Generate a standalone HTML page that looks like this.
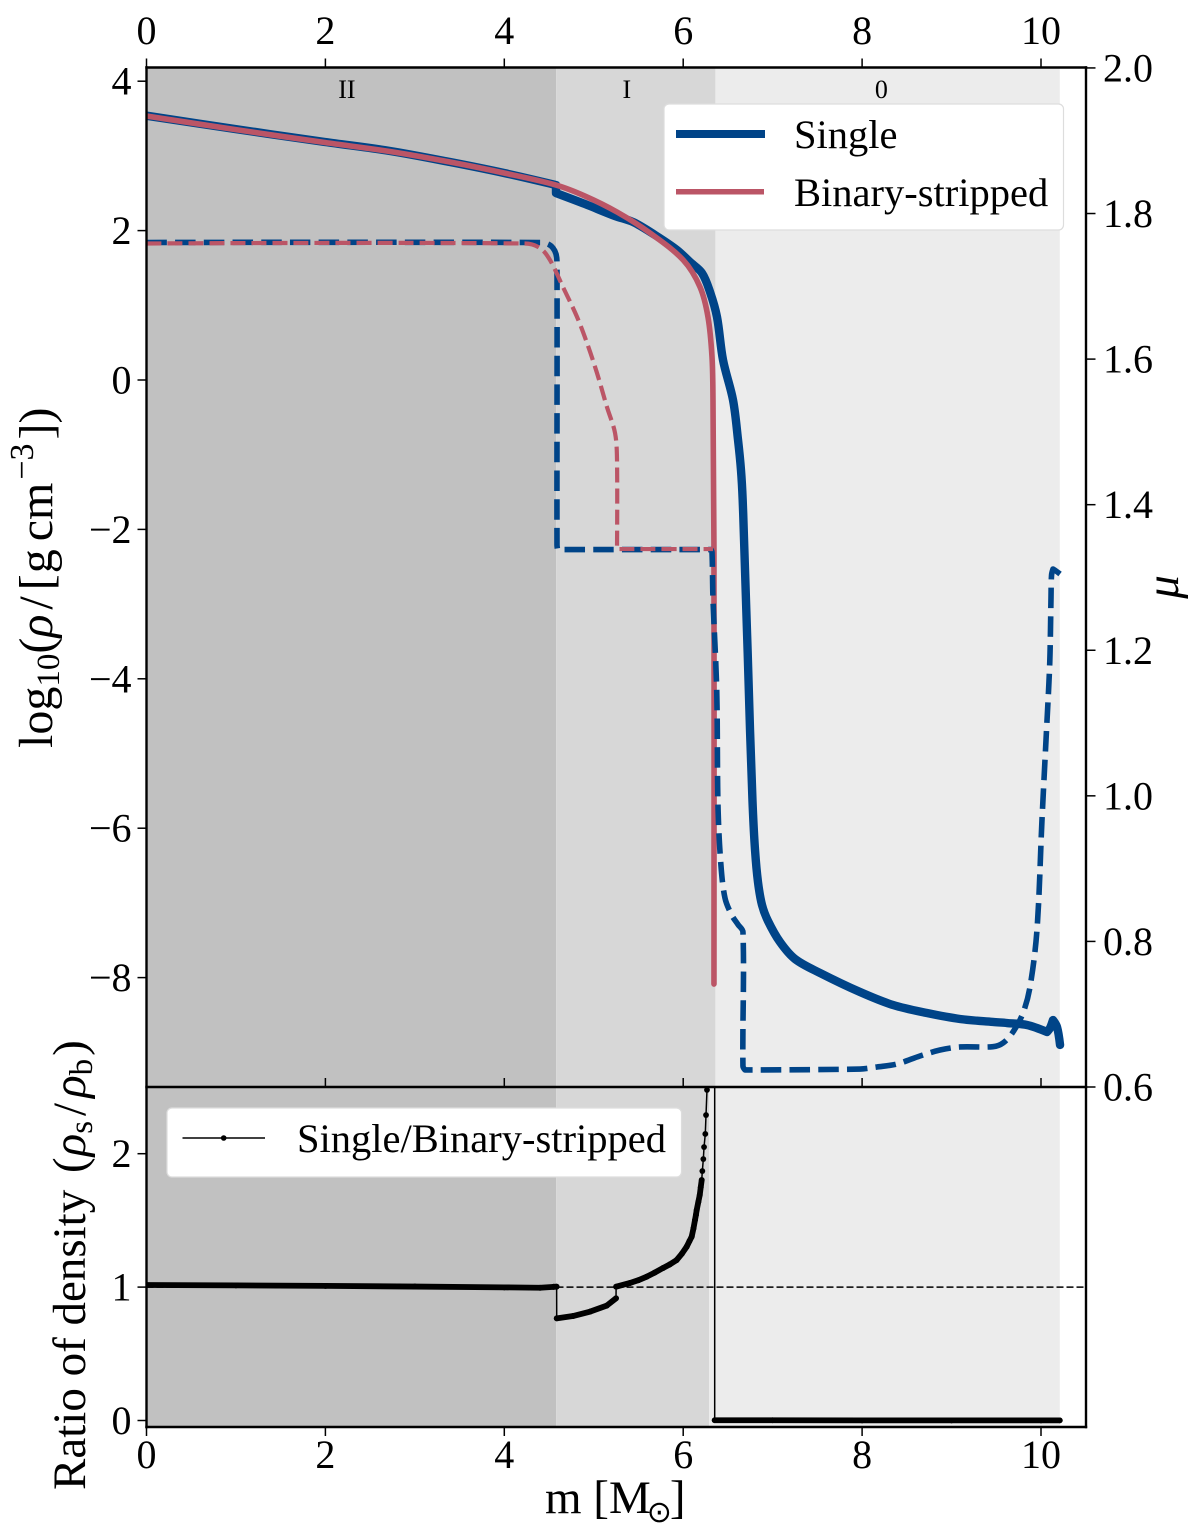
<!DOCTYPE html>
<html lang="en">
<head>
<meta charset="utf-8">
<title>Density profile chart</title>
<style>
html,body{margin:0;padding:0;background:#fff;}
svg{display:block;}
text{font-family:"Liberation Serif","DejaVu Serif",serif;fill:#000;}
</style>
</head>
<body>
<svg id="chart" xmlns="http://www.w3.org/2000/svg" width="1200" height="1535" viewBox="0 0 1200 1535">
  <defs>
    <clipPath id="clip-top"><rect x="146.5" y="67.5" width="939.5" height="1019.5"/></clipPath>
    <clipPath id="clip-bottom"><rect x="146.5" y="1087" width="939.5" height="340"/></clipPath>
  </defs>
  <g id="zones"></g>
  <g id="top-series" clip-path="url(#clip-top)"></g>
  <g id="bottom-series" clip-path="url(#clip-bottom)"></g>
  <g id="axes"></g>

  <text transform="translate(52,748) rotate(-90)" font-size="48">log<tspan font-size="33" dy="7">10</tspan><tspan dy="-7">(</tspan><tspan font-style="italic">ρ</tspan><tspan dx="5">/</tspan><tspan dx="6">[</tspan><tspan dx="1">g</tspan><tspan dx="8">cm</tspan><tspan font-size="34" dy="-19" dx="3">−3</tspan><tspan dy="19" dx="4">])</tspan></text>
  <text transform="translate(85,1490) rotate(-90)" font-size="47">Ratio of density <tspan dx="5">(</tspan><tspan font-style="italic" dx="1">ρ</tspan><tspan font-size="33" dy="7">s</tspan><tspan dy="-7" dx="5">/</tspan><tspan font-style="italic" dx="5">ρ</tspan><tspan font-size="33" dy="7">b</tspan><tspan dy="-7" dx="3">)</tspan></text>
  <text transform="translate(1178,587) rotate(-90)" font-size="47" font-style="italic" text-anchor="middle">μ</text>
  <text x="545" y="1513" font-size="47">m [M<tspan font-family="'DejaVu Sans',sans-serif" font-size="30" dx="-4" dy="9">⊙</tspan><tspan dy="-9" dx="-2">]</tspan></text>

  <g>
    <rect x="664" y="104" width="399.5" height="126" rx="5" fill="#fff" stroke="#ddd" stroke-width="1.2"/>
    <line x1="676" y1="134" x2="765" y2="134" stroke="#004488" stroke-width="8"/>
    <text x="794" y="148" font-size="40.5">Single</text>
    <line x1="676" y1="191.7" x2="764" y2="191.7" stroke="#BB5566" stroke-width="5.5"/>
    <text x="794" y="206" font-size="40.5">Binary-stripped</text>
  </g>
  <g>
    <rect x="167" y="1108" width="514.5" height="69" rx="5" fill="#fff" stroke="#ddd" stroke-width="1.2"/>
    <line x1="182.5" y1="1138" x2="265" y2="1138" stroke="#000" stroke-width="1.4"/>
    <circle cx="223.7" cy="1138" r="2.8" fill="#000"/>
    <text x="297" y="1152" font-size="40.5">Single/Binary-stripped</text>
  </g>
</svg>

<script>
// ---- Data ----
const xTicks = [0, 2, 4, 6, 8, 10];
const rhoTicks = [4, 2, 0, -2, -4, -6, -8];
const muTicks = [2.0, 1.8, 1.6, 1.4, 1.2, 1.0, 0.8, 0.6];
const ratioTicks = [2, 1, 0];
const zoneNames = ['II', 'I', '0'];
const zoneEdges = [0, 4.58, 6.36, 10.21];
const zoneEdgesLower = [0, 4.58, 6.29, 10.21];
const zoneLabelMass = [2.24, 5.37, 8.215];

// log10(rho) – single star
const singleRhoMass = [0, 0.989, 1.995, 2.722, 3.393, 3.997, 4.578, 4.578, 4.902, 5.238, 5.439, 5.685, 5.931, 6.076, 6.21, 6.3, 6.378, 6.445, 6.557, 6.613, 6.646, 6.665, 6.691, 6.721, 6.747, 6.777, 6.803, 6.836, 6.881, 6.948, 7.082, 7.25, 7.53, 7.977, 8.346, 8.725, 9.094, 9.463, 9.62, 9.843, 10.067, 10.101, 10.134, 10.179, 10.213];
const singleRhoValue = [3.538, 3.36, 3.186, 3.066, 2.918, 2.771, 2.61, 2.503, 2.356, 2.195, 2.115, 1.941, 1.74, 1.58, 1.432, 1.178, 0.843, 0.268, -0.268, -0.803, -1.205, -1.606, -2.544, -3.655, -4.685, -5.703, -6.292, -6.72, -7.028, -7.242, -7.523, -7.751, -7.938, -8.193, -8.367, -8.474, -8.554, -8.594, -8.608, -8.635, -8.728, -8.675, -8.568, -8.661, -8.902];

// log10(rho) – binary-stripped star
const binaryRhoMass = [0, 0.989, 1.995, 2.722, 3.393, 3.997, 4.578, 4.902, 5.26, 5.629, 6.0, 6.188, 6.277, 6.322, 6.333, 6.344, 6.344];
const binaryRhoValue = [3.534, 3.353, 3.179, 3.059, 2.918, 2.771, 2.61, 2.463, 2.249, 1.968, 1.606, 1.245, 0.843, 0.308, -0.268, -2.262, -8.086];

// mean molecular weight – single star
const singleMuMass = [0, 4.399, 4.489, 4.544, 4.578, 4.589, 4.589, 4.595, 6.311, 6.322, 6.333, 6.375, 6.389, 6.42, 6.467, 6.542, 6.613, 6.668, 6.668, 6.691, 7.977, 8.167, 8.39, 8.647, 8.871, 9.094, 9.463, 9.575, 9.687, 9.799, 9.877, 9.955, 10.011, 10.056, 10.089, 10.101, 10.112, 10.118, 10.134, 10.168, 10.213];
const singleMuValue = [1.7602, 1.7602, 1.758, 1.7526, 1.7444, 1.732, 1.3446, 1.3384, 1.3384, 1.335, 1.2704, 1.144, 0.986, 0.9077, 0.8597, 0.8363, 0.8232, 0.813, 0.6288, 0.6234, 0.6247, 0.6275, 0.6316, 0.6426, 0.6508, 0.655, 0.6554, 0.6604, 0.6756, 0.7017, 0.7374, 0.8157, 0.9668, 1.0767, 1.1564, 1.1962, 1.2732, 1.3034, 1.3116, 1.3089, 1.3048];

// mean molecular weight – binary-stripped star
const binaryMuMass = [0, 4.231, 4.399, 4.511, 4.656, 4.813, 4.925, 5.036, 5.148, 5.238, 5.26, 5.26, 6.333];
const binaryMuValue = [1.7588, 1.7588, 1.7526, 1.736, 1.699, 1.658, 1.622, 1.581, 1.534, 1.4985, 1.4614, 1.339, 1.339];

// density ratio
const ratioMass = [0, 1, 2, 3, 4, 4.4, 4.55, 4.585, 4.586, 4.768, 4.958, 5.145, 5.249, 5.25, 5.405, 5.5, 5.592, 5.68, 5.774, 5.85, 5.927, 5.985, 6.039, 6.07, 6.095, 6.115, 6.132, 6.142, 6.151, 6.169, 6.185, 6.196, 6.207, 6.214, 6.225, 6.233, 6.247, 6.255, 6.266, 6.3, 6.352, 6.352, 7, 8, 9, 10, 10.21];
const ratioValue = [1.016, 1.013, 1.009, 1.004, 0.998, 0.995, 1.002, 1.003, 0.766, 0.783, 0.816, 0.861, 0.916, 1.003, 1.031, 1.052, 1.078, 1.108, 1.143, 1.17, 1.203, 1.25, 1.303, 1.345, 1.378, 1.44, 1.503, 1.54, 1.578, 1.638, 1.69, 1.748, 1.803, 1.87, 1.96, 2.05, 2.148, 2.29, 2.478, 3.2, 3.2, 0.002, 0.002, 0.001, 0.001, 0.001, 0.001];
const ratioReference = 1;

// ---- Axis functions ----
const xOf = m => 146.5 + m * 89.45;
const yRho = v => 380 - v * 74.7;
const yMu = u => 1087 - (u - 0.6) * 727.9;
const yRatio = r => 1420.5 - r * 133.4;

const NS = 'http://www.w3.org/2000/svg';
function make(tag, attrs, parent, txt) {
  const el = document.createElementNS(NS, tag);
  for (const k in attrs) el.setAttribute(k, attrs[k]);
  if (txt !== undefined) el.textContent = txt;
  parent.appendChild(el);
  return el;
}
function linePath(xs, ys, fx, fy) {
  return xs.map((m, i) => (i ? 'L' : 'M') + fx(m).toFixed(2) + ' ' + fy(ys[i]).toFixed(2)).join('');
}
// smooth curve through the samples; sharp bends stay as corners
function curvePath(xs, ys, fx, fy) {
  const p = xs.map((m, i) => [fx(m), fy(ys[i])]);
  const n = p.length;
  const tan = p.map((q, i) => {
    if (i === 0 || i === n - 1) return null;
    const ax = q[0] - p[i - 1][0], ay = q[1] - p[i - 1][1];
    const bx = p[i + 1][0] - q[0], by = p[i + 1][1] - q[1];
    const la = Math.hypot(ax, ay) || 1, lb = Math.hypot(bx, by) || 1;
    if ((ax * bx + ay * by) / (la * lb) < 0.64) return null;
    const tx = ax + bx, ty = ay + by;
    const lt = Math.hypot(tx, ty) || 1;
    return [tx / lt, ty / lt];
  });
  let d = 'M' + p[0][0].toFixed(2) + ' ' + p[0][1].toFixed(2);
  for (let i = 1; i < n; i++) {
    const a = p[i - 1], b = p[i];
    const len = Math.hypot(b[0] - a[0], b[1] - a[1]) / 3;
    const c1 = tan[i - 1] ? [a[0] + tan[i - 1][0] * len, a[1] + tan[i - 1][1] * len] : a;
    const c2 = tan[i] ? [b[0] - tan[i][0] * len, b[1] - tan[i][1] * len] : b;
    d += 'C' + c1[0].toFixed(2) + ' ' + c1[1].toFixed(2) + ' ' + c2[0].toFixed(2) + ' ' + c2[1].toFixed(2) + ' ' + b[0].toFixed(2) + ' ' + b[1].toFixed(2);
  }
  return d;
}

const zones = document.getElementById('zones');
const topG = document.getElementById('top-series');
const botG = document.getElementById('bottom-series');
const axes = document.getElementById('axes');
const zoneColors = ['#c1c1c1', '#d7d7d7', '#ececec'];
const panelTop = 67.5, panelMid = 1087, panelBot = 1427, axisL = 146.5, axisR = 1086;

// ---- Zones ----
zoneNames.forEach((name, i) => {
  const r = make('rect', {x: xOf(zoneEdges[i]), y: panelTop, width: xOf(zoneEdges[i + 1]) - xOf(zoneEdges[i]), height: panelMid - panelTop, fill: zoneColors[i]}, zones);
  
  
  const b = make('rect', {x: xOf(zoneEdgesLower[i]), y: panelMid, width: xOf(zoneEdgesLower[i + 1]) - xOf(zoneEdgesLower[i]), height: panelBot - panelMid, fill: zoneColors[i]}, zones);
  
  
  const t = make('text', {x: xOf(zoneLabelMass[i]), y: 98, 'font-size': 26, 'text-anchor': 'middle'}, zones, name);
  
  
});

// ---- Upper panel series ----
const rhoSingle = make('path', {d: curvePath(singleRhoMass, singleRhoValue, xOf, yRho), fill: 'none', stroke: '#004488', 'stroke-width': 8.4, 'stroke-linejoin': 'round', 'stroke-linecap': 'round'}, topG);



const rhoBinary = make('path', {d: curvePath(binaryRhoMass, binaryRhoValue, xOf, yRho), fill: 'none', stroke: '#BB5566', 'stroke-width': 5.6, 'stroke-linejoin': 'round', 'stroke-linecap': 'round'}, topG);



const muSingle = make('path', {d: curvePath(singleMuMass, singleMuValue, xOf, yMu), fill: 'none', stroke: '#004488', 'stroke-width': 5.6, 'stroke-dasharray': '20.5 8.2', 'stroke-linejoin': 'round'}, topG);



const muBinary = make('path', {d: curvePath(binaryMuMass, binaryMuValue, xOf, yMu), fill: 'none', stroke: '#BB5566', 'stroke-width': 4.2, 'stroke-dasharray': '15 6', 'stroke-linejoin': 'round'}, topG);



// ---- Lower panel series ----
const refLine = make('line', {x1: xOf(0), x2: axisR, y1: yRatio(ratioReference), y2: yRatio(ratioReference), stroke: '#000', 'stroke-width': 1.5, 'stroke-dasharray': '7 3'}, botG);



const ratioLine = make('path', {d: linePath(ratioMass, ratioValue, xOf, yRatio), fill: 'none', stroke: '#000', 'stroke-width': 1.5}, botG);



// densely sampled runs merge into a thick band of overlapping markers
ratioMass.forEach((m, i) => {
  if (i > 0 && Math.abs(yRatio(ratioValue[i]) - yRatio(ratioValue[i - 1])) < 8.6) {
    const seg = make('line', {x1: xOf(ratioMass[i - 1]), y1: yRatio(ratioValue[i - 1]), x2: xOf(m), y2: yRatio(ratioValue[i]), stroke: '#000', 'stroke-width': 5.8, 'stroke-linecap': 'round'}, botG);
    
    
  }
  const dot = make('circle', {cx: xOf(m), cy: yRatio(ratioValue[i]), r: 2.9, fill: '#000'}, botG);
  
  
});

// ---- Axes ----
function spine(x1, y1, x2, y2, name) {
  const s = make('line', {x1, y1, x2, y2, stroke: '#000', 'stroke-width': 2.4, 'stroke-linecap': 'square'}, axes);
  
  
}
spine(axisL, panelTop, axisR, panelTop, 'spine-top');
spine(axisL, panelMid, axisR, panelMid, 'spine-middle');
spine(axisL, panelBot, axisR, panelBot, 'spine-bottom');
spine(axisL, panelTop, axisL, panelBot, 'spine-left');
spine(axisR, panelTop, axisR, panelBot, 'spine-right');

function tick(x1, y1, x2, y2, name) {
  const t = make('line', {x1, y1, x2, y2, stroke: '#000', 'stroke-width': 1.5}, axes);
  
  
}
function label(x, y, anchor, str, name) {
  const t = make('text', {x, y, 'font-size': 40, 'text-anchor': anchor}, axes, str);
  
  
}
xTicks.forEach(v => {
  const x = xOf(v);
  tick(x, panelTop, x, panelTop - 9, 'x-tick-top');
  label(x, 44, 'middle', String(v), 'x-tick-label-top');
  tick(x, panelMid, x, panelMid - 9, 'x-tick-middle');
  tick(x, panelBot, x, panelBot + 9, 'x-tick-bottom');
  label(x, 1468, 'middle', String(v), 'x-tick-label-bottom');
});
rhoTicks.forEach(v => {
  const y = yRho(v);
  tick(axisL, y, axisL - 9, y, 'y-tick-density');
  label(131.5, y + 13.5, 'end', v < 0 ? '−' + (-v) : String(v), 'y-tick-label-density');
});
muTicks.forEach(v => {
  const y = yMu(v);
  tick(axisR, y, axisR + 9.5, y, 'y-tick-mu');
  label(1103, y + 13.5, 'start', v.toFixed(1), 'y-tick-label-mu');
});
ratioTicks.forEach(v => {
  const y = yRatio(v);
  tick(axisL, y, axisL - 9, y, 'y-tick-ratio');
  label(131.5, y + 13.5, 'end', String(v), 'y-tick-label-ratio');
});
</script>
</body>
</html>
